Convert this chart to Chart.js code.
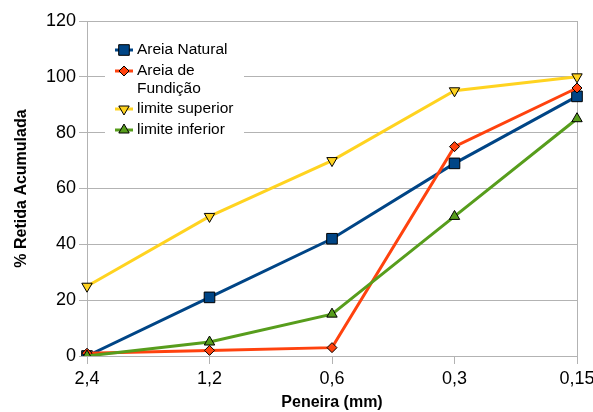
<!DOCTYPE html>
<html>
<head>
<meta charset="utf-8">
<script src="https://cdn.jsdelivr.net/npm/chart.js@4/dist/chart.umd.min.js"></script>
<style>
  html, body { margin: 0; padding: 0; background: #fff; }
  #wrap { width: 593px; height: 412px; position: relative; }
</style>
</head>
<body>
<div id="wrap"><canvas id="peneiras"></canvas></div>
<script>
// data
const peneiras = ['2,4', '1,2', '0,6', '0,3', '0,15'];
const areiaNatural = [0, 21, 42, 69, 93];
const areiaFundicao = [1, 2, 3, 75, 96];
const limiteSuperior = [25, 50, 70, 95, 100];
const limiteInferior = [0, 5, 15, 50, 85];
const yTicks = [0, 20, 40, 60, 80, 100, 120];

const FONT = "'Liberation Sans', Arial, sans-serif";
const GRID = '#b3b3b3';

// legend rows (label lines, colour, marker)
const legendRows = [
  { lines: ['Areia Natural'], color: '#004586', shape: 'rect', y: 50 },
  { lines: ['Areia de', 'Fundição'], color: '#ff420e', shape: 'rectRot', y: 71 },
  { lines: ['limite superior'], color: '#ffd320', shape: 'triDown', y: 109 },
  { lines: ['limite inferior'], color: '#579d1c', shape: 'triangle', y: 130 }
];

function marker(ctx, shape, x, y, fill) {
  ctx.beginPath();
  if (shape === 'rect') {
    ctx.rect(x - 5.3, y - 5.3, 10.6, 10.6);
  } else if (shape === 'rectRot') {
    ctx.moveTo(x, y - 5); ctx.lineTo(x + 5, y); ctx.lineTo(x, y + 5); ctx.lineTo(x - 5, y);
    ctx.closePath();
  } else if (shape === 'triangle') {
    ctx.moveTo(x, y - 6); ctx.lineTo(x + 5.2, y + 3); ctx.lineTo(x - 5.2, y + 3);
    ctx.closePath();
  } else {
    ctx.moveTo(x, y + 6); ctx.lineTo(x + 5.2, y - 3); ctx.lineTo(x - 5.2, y - 3);
    ctx.closePath();
  }
  ctx.fillStyle = fill;
  ctx.fill();
  ctx.lineWidth = 1;
  ctx.strokeStyle = '#000';
  ctx.stroke();
}

const boxLegend = {
  id: 'boxLegend',
  beforeDatasetsDraw(chart) {
    const ctx = chart.ctx;
    const a = chart.chartArea;
    ctx.save();
    // right frame line
    ctx.strokeStyle = GRID;
    ctx.lineWidth = 1;
    ctx.beginPath();
    ctx.moveTo(Math.round(a.right) + 0.5, a.top);
    ctx.lineTo(Math.round(a.right) + 0.5, a.bottom);
    ctx.stroke();
    // legend box
    ctx.fillStyle = '#fff';
    ctx.fillRect(105, 33, 139, 109);
    ctx.font = '15.5px ' + FONT;
    ctx.textBaseline = 'middle';
    ctx.textAlign = 'left';
    legendRows.forEach(r => {
      ctx.strokeStyle = r.color;
      ctx.lineWidth = 3;
      ctx.beginPath();
      ctx.moveTo(115, r.y);
      ctx.lineTo(133, r.y);
      ctx.stroke();
      marker(ctx, r.shape, 124, r.y, r.color);
      ctx.fillStyle = '#000';
      r.lines.forEach((t, i) => ctx.fillText(t, 137, r.y + i * 18));
    });
    ctx.restore();
  }
};

function serie(label, data, color, style, rot, radius, order) {
  return {
    label: label,
    data: data,
    borderColor: color,
    backgroundColor: color,
    borderWidth: 3,
    pointStyle: style,
    rotation: rot,
    pointRadius: radius,
    pointHoverRadius: radius,
    pointBackgroundColor: color,
    pointBorderColor: '#000',
    pointBorderWidth: 1,
    tension: 0,
    order: order
  };
}

new Chart(document.getElementById('peneiras'), {
  type: 'line',
  data: {
    labels: peneiras,
    datasets: [
      serie('Areia Natural', areiaNatural, '#004586', 'rect', 0, 7.5, 4),
      serie('Areia de Fundição', areiaFundicao, '#ff420e', 'rectRot', 0, 5, 3),
      serie('limite superior', limiteSuperior, '#ffd320', 'triangle', 180, 6, 2),
      serie('limite inferior', limiteInferior, '#579d1c', 'triangle', 0, 6, 1)
    ]
  },
  options: {
    responsive: true,
    maintainAspectRatio: false,
    animation: false,
    layout: { padding: { top: 21, right: 16, left: 0, bottom: 0 } },
    plugins: {
      legend: { display: false },
      tooltip: { enabled: false }
    },
    scales: {
      x: {
        offset: false,
        grid: { drawOnChartArea: false, color: GRID, tickLength: 8 },
        border: { color: GRID },
        ticks: { color: '#000', font: { family: FONT, size: 18 }, padding: 4, maxRotation: 0 },
        title: {
          display: true, text: 'Peneira (mm)', color: '#000',
          font: { family: FONT, size: 16, weight: 'bold' }, padding: { top: 0, bottom: 0 }
        },
        afterFit(s) { s.height = 56; s.paddingLeft = 0; s.paddingRight = 0; }
      },
      y: {
        min: 0, max: 120,
        afterBuildTicks(s) { s.ticks = yTicks.map(v => ({ value: v })); },
        grid: { color: GRID, tickLength: 8 },
        border: { color: GRID },
        ticks: { color: '#000', font: { family: FONT, size: 18 }, padding: 3 },
        title: {
          display: true, text: '% Retida Acumulada', color: '#000',
          font: { family: FONT, size: 16, weight: 'bold' }, padding: { top: 12, bottom: 0 }
        },
        afterFit(s) { s.width = 87; s.paddingTop = 0; s.paddingBottom = 0; }
      }
    }
  },
  plugins: [boxLegend]
});
</script>
</body>
</html>
